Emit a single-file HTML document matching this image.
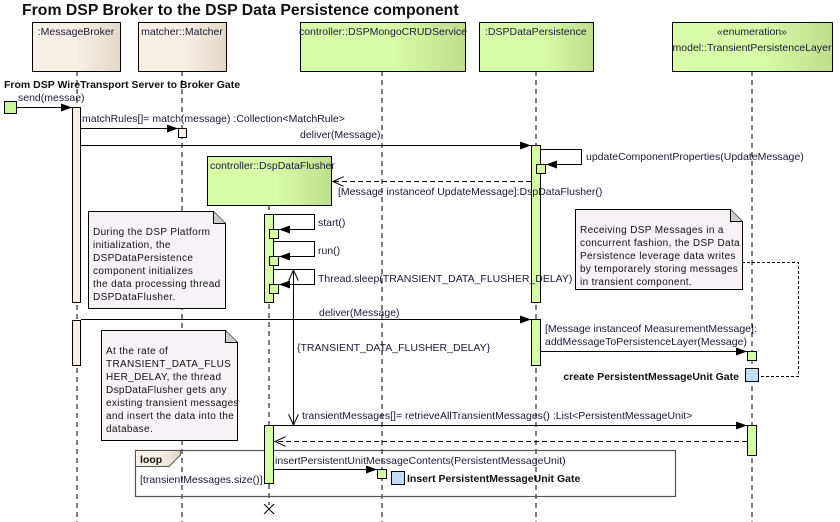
<!DOCTYPE html>
<html><head><meta charset="utf-8"><style>
body{margin:0;background:#fff}
svg{display:block}
text{font-family:"Liberation Sans",sans-serif;font-size:10.5px;fill:#1a1a3a}
.b{font-weight:bold;fill:#111}
.n{font-size:10px;letter-spacing:0.35px;fill:#111}
.ll{stroke:#000;stroke-dasharray:5,4;stroke-width:1}
.ln{stroke:#000;stroke-width:1;fill:none}
.dl{stroke:#000;stroke-dasharray:5,3;fill:none}
.g{fill:url(#gg);stroke:#000}
.t{fill:url(#tg);stroke:#000}
.ag{fill:#d6fca6;stroke:#000}
.at{fill:#f8f0e6;stroke:#000}
.note{fill:#f6f2f6;stroke:#000}
</style></head><body>
<svg width="840" height="522" xmlns="http://www.w3.org/2000/svg">
<defs>
<linearGradient id="gg" x1="0" x2="1"><stop offset="0.55" stop-color="#d8fca8"/><stop offset="1" stop-color="#bede8e"/></linearGradient>
<linearGradient id="tg" x1="0" x2="1"><stop offset="0.5" stop-color="#f7f0e6"/><stop offset="1" stop-color="#e2d8c6"/></linearGradient>
<marker id="fa" markerWidth="12" markerHeight="8" refX="11" refY="4" orient="auto" markerUnits="userSpaceOnUse"><path d="M0,0 L11,4 L0,8 z" fill="#000"/></marker>
<marker id="oa" markerWidth="12" markerHeight="10" refX="11" refY="5" orient="auto" markerUnits="userSpaceOnUse"><path d="M0,0 L11,5 L0,10" fill="none" stroke="#000"/></marker>
</defs>
<text x="22" y="15" class="b" style="font-size:15.8px">From DSP Broker to the DSP Data Persistence component</text>

<line x1="77" y1="71" x2="77" y2="522" class="ll"/>
<line x1="182" y1="71" x2="182" y2="522" class="ll"/>
<line x1="382" y1="71" x2="382" y2="522" class="ll"/>
<line x1="536" y1="71" x2="536" y2="522" class="ll"/>
<line x1="752" y1="71" x2="752" y2="522" class="ll"/>
<line x1="269" y1="205" x2="269" y2="505" class="ll"/>

<rect x="32.5" y="22.5" width="88" height="49" class="t"/><text x="76" y="35" text-anchor="middle">:MessageBroker</text>
<rect x="138.5" y="22.5" width="88" height="49" class="t"/><text x="182" y="35" text-anchor="middle">matcher::Matcher</text>
<rect x="300.5" y="22.5" width="165" height="49" class="g"/><text x="383" y="35" text-anchor="middle">controller::DSPMongoCRUDService</text>
<rect x="479.5" y="22.5" width="114" height="49" class="g"/><text x="485" y="35">:DSPDataPersistence</text>
<rect x="672.5" y="22.5" width="160" height="49" class="g"/><text x="752" y="35" text-anchor="middle">«enumeration»</text><text x="752" y="51" text-anchor="middle">model::TransientPersistenceLayer</text>
<rect x="207.5" y="156.5" width="124" height="49" class="g"/><text x="210" y="169">controller::DspDataFlusher</text>

<path d="M88.5,211.5 H213.5 L225.5,223.5 V308.5 H88.5 Z" class="note"/><path d="M213.5,211.5 V223.5 H225.5" fill="#ccc" stroke="#000"/>
<text class="n" x="93" y="235">During the DSP Platform</text><text class="n" x="93" y="248">initialization, the</text><text class="n" x="93" y="261">DSPDataPersistence</text><text class="n" x="93" y="274">component initializes</text><text class="n" x="93" y="287">the data processing thread</text><text class="n" x="93" y="300">DSPDataFlusher.</text>

<path d="M101.5,330.5 H225.5 L237.5,342.5 V440.5 H101.5 Z" class="note"/><path d="M225.5,330.5 V342.5 H237.5" fill="#ccc" stroke="#000"/>
<text class="n" x="106" y="354">At the rate of</text><text class="n" x="106" y="367">TRANSIENT_DATA_FLUS</text><text class="n" x="106" y="380">HER_DELAY, the thread</text><text class="n" x="106" y="393">DspDataFlusher gets any</text><text class="n" x="106" y="406">existing transient messages</text><text class="n" x="106" y="419">and insert the data into the</text><text class="n" x="106" y="432">database.</text>

<path d="M575.5,209.5 H730.5 L742.5,221.5 V289.5 H575.5 Z" class="note"/><path d="M730.5,209.5 V221.5 H742.5" fill="#ccc" stroke="#000"/>
<text class="n" x="580" y="233">Receiving DSP Messages in a</text><text class="n" x="580" y="246">concurrent fashion, the DSP Data</text><text class="n" x="580" y="259">Persistence leverage data writes</text><text class="n" x="580" y="272">by temporarely storing messages</text><text class="n" x="580" y="285">in transient component.</text>
<path d="M742,262.5 H798.5 V376.5 H758" fill="none" stroke="#000" stroke-dasharray="3,2"/>

<text x="4" y="88" class="b">From DSP WireTransport Server to Broker Gate</text>
<rect x="4.5" y="101.5" width="12" height="12" fill="#c8f49a" stroke="#000"/>
<text x="18" y="101">send(messae)</text>
<line x1="17" y1="107.5" x2="72" y2="107.5" class="ln" marker-end="url(#fa)"/>

<rect x="72.5" y="107.5" width="8" height="195" class="at"/>
<rect x="72.5" y="320.5" width="8" height="45" class="at"/>

<text x="82" y="122">matchRules[]= match(message) :Collection&lt;MatchRule&gt;</text>
<line x1="81" y1="128.5" x2="178" y2="128.5" class="ln" marker-end="url(#fa)"/>
<rect x="178.5" y="128.5" width="8" height="9" class="at"/>

<text x="300" y="138">deliver(Message)</text>
<line x1="81" y1="145.5" x2="531" y2="145.5" class="ln" marker-end="url(#fa)"/>
<rect x="531.5" y="145.5" width="9" height="157" class="ag"/>
<path d="M540.5,149.5 H581.5 V164.5 H546" class="ln" marker-end="url(#fa)"/>
<rect x="536.5" y="164.5" width="9" height="9" class="ag"/>
<text x="586" y="160">updateComponentProperties(UpdateMessage)</text>

<line x1="531" y1="181.5" x2="333" y2="181.5" class="dl" marker-end="url(#oa)"/>
<text x="338" y="195">[Message instanceof UpdateMessage]:DspDataFlusher()</text>

<rect x="264.5" y="214.5" width="9" height="88" class="ag"/>
<path d="M273.5,214.5 H314.5 V229.5 H279" class="ln" marker-end="url(#fa)"/><rect x="269.5" y="229.5" width="9" height="9" class="ag"/>
<path d="M273.5,241.5 H314.5 V256.5 H279" class="ln" marker-end="url(#fa)"/><rect x="269.5" y="256.5" width="9" height="9" class="ag"/>
<path d="M273.5,269.5 H314.5 V284.5 H279" class="ln" marker-end="url(#fa)"/><rect x="269.5" y="284.5" width="9" height="9" class="ag"/>
<text x="318" y="226">start()</text><text x="318" y="254">run()</text><text x="318" y="282">Thread.sleep(TRANSIENT_DATA_FLUSHER_DELAY)</text>

<line x1="293.5" y1="300" x2="293.5" y2="270" class="ln" marker-end="url(#oa)"/>
<line x1="293.5" y1="300" x2="293.5" y2="425" class="ln" marker-end="url(#oa)"/>
<text x="297" y="351">{TRANSIENT_DATA_FLUSHER_DELAY}</text>

<text x="319" y="316">deliver(Message)</text>
<line x1="81" y1="319.5" x2="531" y2="319.5" class="ln" marker-end="url(#fa)"/>
<rect x="531.5" y="319.5" width="9" height="46" class="ag"/>
<text x="545" y="332">[Message instanceof MeasurementMessage]:</text>
<text x="545" y="345">addMessageToPersistenceLayer(Message)</text>
<line x1="541" y1="351.5" x2="747" y2="351.5" class="ln" marker-end="url(#fa)"/>
<rect x="747.5" y="351.5" width="9" height="9" class="ag"/>
<rect x="745.5" y="368.5" width="13" height="13" fill="#c4dcf4" stroke="#000"/>
<text x="739" y="380" text-anchor="end" class="b">create PersistentMessageUnit Gate</text>

<text x="302" y="419">transientMessages[]= retrieveAllTransientMessages() :List&lt;PersistentMessageUnit&gt;</text>
<line x1="274" y1="425.5" x2="747" y2="425.5" class="ln" marker-end="url(#fa)"/>
<rect x="747.5" y="425.5" width="9" height="30" class="ag"/>
<line x1="747" y1="441.5" x2="275" y2="441.5" class="dl" marker-end="url(#oa)"/>

<rect x="135.5" y="450.5" width="540" height="46" fill="none" stroke="#555" stroke-width="1.2"/>
<path d="M135.5,450.5 H180.5 V455 L169,466.5 H135.5 Z" fill="url(#tg)" stroke="#555"/>
<text x="140" y="463" class="b">loop</text>
<text x="140" y="483">[transientMessages.size()]</text>
<rect x="264.5" y="425.5" width="9" height="58" class="ag"/>
<text x="275" y="464">insertPersistentUnitMessageContents(PersistentMessageUnit)</text>
<line x1="274" y1="469.5" x2="377" y2="469.5" class="ln" marker-end="url(#fa)"/>
<rect x="377.5" y="469.5" width="9" height="9" class="ag"/>
<rect x="391.5" y="471.5" width="13" height="13" fill="#c4dcf4" stroke="#000"/>
<text x="407" y="482" class="b">Insert PersistentMessageUnit Gate</text>

<path d="M264,504 L274,514 M274,504 L264,514" stroke="#000"/>
</svg>
</body></html>
